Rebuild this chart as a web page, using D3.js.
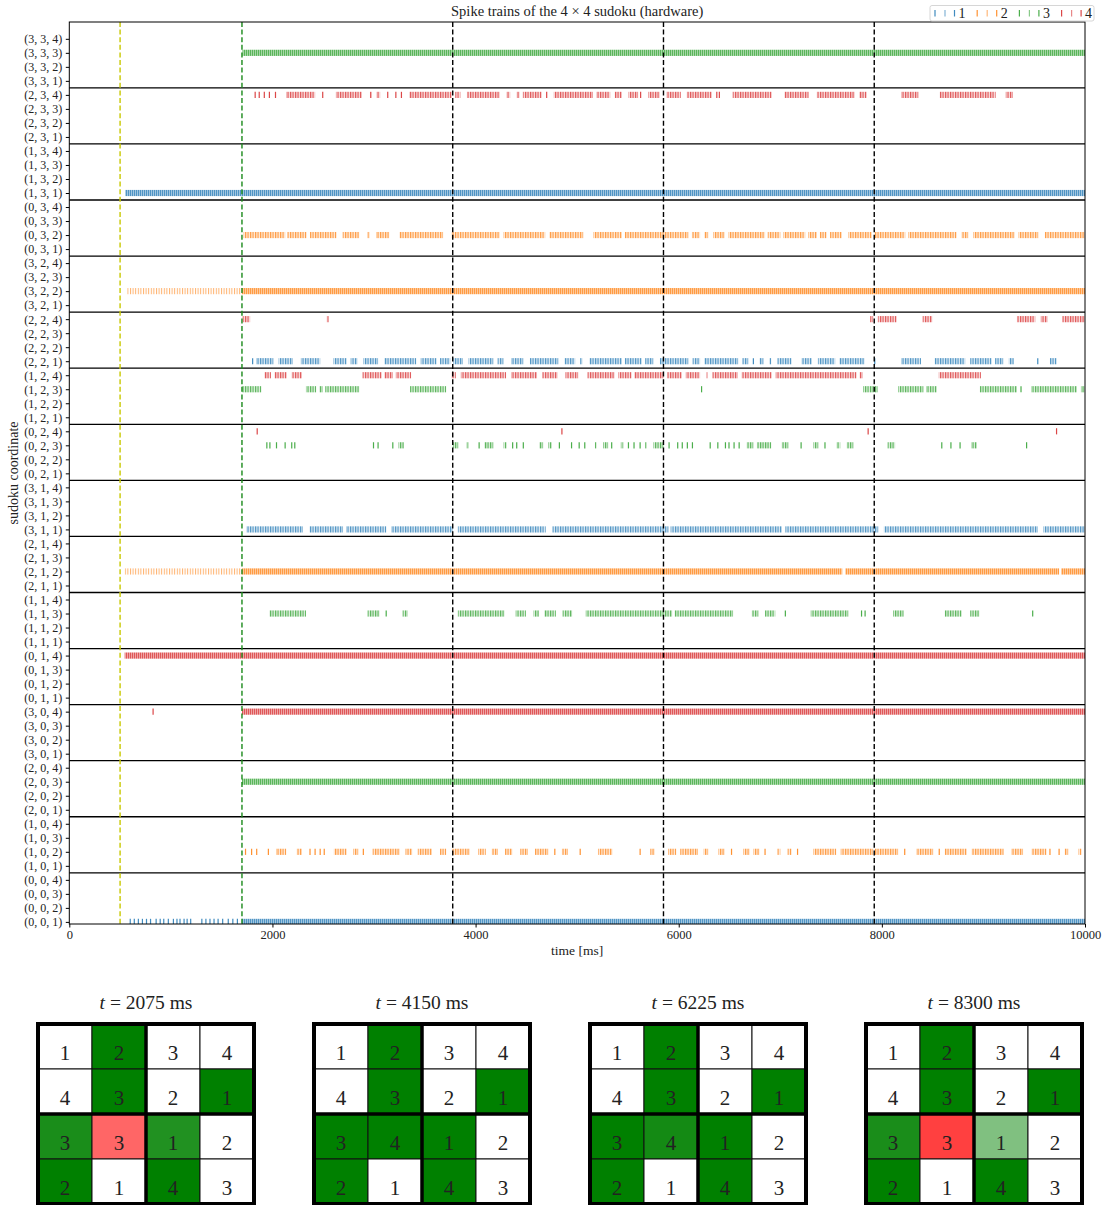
<!DOCTYPE html>
<html>
<head>
<meta charset="utf-8">
<script src="https://cdn.jsdelivr.net/npm/d3@7"></script>
<style>
body { margin: 0; background: #fff; }
svg text { font-family: "Liberation Serif", "DejaVu Serif", serif; fill: #222; }
</style>
</head>
<body>
<div id="chart"></div>
<script>
// ---- data -------------------------------------------------------------
// spike trains, [start, end] in ms (start == end: single spike),
// third value 1 = low-rate train, 2 = continuous train
const rowsIdx = [0, 1, 2, 3];
const colsIdx = [0, 1, 2, 3];
const digits = [1, 2, 3, 4];
const xTicks = [0, 2000, 4000, 6000, 8000, 10000];

const s_3_3_3 = [[1705, 10000, 2]];
const s_2_3_4 = [[1830,1830],[1870,1870],[1920,1920],[1970,1970],[2030,2030],[2135,2420],[2495,2495],[2625,2880],[2960,2980],[3025,3060],[3135,3135],[3215,3215],[3270,3270],[3345,3765],[3800,3850],[3915,4240],[4305,4340],[4405,4435],[4465,4650],[4700,4700],[4770,5155],[5190,5325],[5370,5440],[5505,5600],[5625,5625],[5700,5815],[5880,6020],[6080,6325],[6375,6375],[6400,6400],[6530,6915],[7040,7280],[7360,7735],[7775,7850],[8190,8360],[8570,9120],[9220,9290]];
const s_1_3_1 = [[550, 10000, 2]];
const s_0_3_2 = [[1715,2125],[2145,2335],[2370,2630],[2690,2855],[2935,2960],[3020,3150],[3250,3680],[3765,4240],[4275,4685],[4725,5060],[5160,5440],[5470,6095],[6130,6210],[6250,6290],[6340,6455],[6490,6850],[6875,7000],[7030,7245],[7275,7360],[7390,7455],[7490,7605],[7670,7900],[7930,8230],[8260,8735],[8785,8850],[8900,9310],[9345,9540],[9605,10000]];
const s_3_2_2 = [[570, 1700, 1], [1700, 10000, 2]];
const s_2_2_4 = [[1705,1780],[2535,2555],[7885,7915],[7960,8145],[8400,8495],[9330,9510],[9565,9630],[9775,10000]];
const s_2_2_1 = [[1805,1805],[1840,2010],[2060,2200],[2280,2470],[2600,2730],[2770,2835],[2895,3040],[3100,3415],[3460,3615],[3650,3750],[3780,3875],[3930,4175],[4215,4275],[4350,4470],[4535,4815],[4875,4980],[5030,5050],[5120,5440],[5470,5635],[5670,5750],[5815,6095],[6135,6210],[6250,6585],[6625,6685],[6735,6735],[6795,6835],[6890,6910],[6970,7110],[7210,7310],[7370,7540],[7580,7830],[7930,7930],[8190,8385],[8520,8820],[8870,9080],[9115,9195],[9250,9300],[9535,9535],[9655,9720]];
const s_1_2_4 = [[1920,1985],[2020,2140],[2190,2290],[2885,3075],[3100,3185],[3215,3365],[3765,3805],[3855,4300],[4350,4605],[4655,4805],[4885,5010],[5100,5370],[5405,5535],[5560,5850],[5885,6030],[6070,6210],[6270,6285],[6330,6580],[6620,6915],[6955,7750],[7780,7810],[8560,8975]];
const s_1_2_3 = [[1700,1890],[2330,2430],[2460,2495],[2520,2855],[3355,3710],[6225,6225],[7815,7960],[8160,8410],[8435,8540],[8965,9330],[9370,9370],[9470,9920],[9960,10000]];
const s_0_2_4 = [[1850,1850],[4850,4850],[7865,7865],[9720,9720]];
const s_0_2_3 = [[1945,1945],[1975,1975],[2040,2040],[2125,2125],[2190,2190],[2220,2220],[2995,2995],[3040,3040],[3185,3185],[3240,3295],[3775,3830],[3910,3930],[4035,4035],[4085,4175],[4275,4305],[4365,4365],[4405,4405],[4470,4470],[4625,4665],[4715,4750],[4825,4825],[4945,4945],[5020,5020],[5075,5075],[5175,5190],[5255,5305],[5340,5340],[5430,5455],[5505,5505],[5560,5560],[5620,5620],[5670,5685],[5750,5850],[5905,5905],[5990,5990],[6035,6035],[6085,6085],[6135,6135],[6310,6310],[6385,6385],[6460,6460],[6495,6495],[6545,6545],[6595,6595],[6670,6735],[6770,6910],[7015,7080],[7205,7205],[7325,7375],[7440,7440],[7555,7590],[7655,7720],[8055,8130],[8590,8590],[8680,8680],[8770,8770],[8880,8935],[9425,9425]];
const s_3_1_1 = [[1745,2300],[2365,2695],[2725,3120],[3170,3775],[3825,4690],[4755,5900],[5920,7015],[7050,7965],[8020,9535],[9590,10000]];
const s_2_1_2 = [[545,1700,1],[1700,7610,2],[7640,9745,2],[9765,10000,2]];
const s_1_1_3 = [[1970,2330],[2935,3055],[3120,3120],[3280,3330],[3825,4285],[4395,4495],[4570,4625],[4675,4790],[4855,4950],[5085,5935],[5960,6535],[6720,6785],[6850,6950],[7050,7050],[7300,7670],[7800,7800],[7835,7835],[8110,8215],[8620,8785],[8870,8960],[9485,9485]];
const s_0_1_4 = [[545, 10000, 2]];
const s_3_0_4 = [[825,825],[1700, 10000, 2]];
const s_2_0_3 = [[1700, 10000, 2]];
const s_1_0_2 = [[1735,1735],[1795,1795],[1845,1845],[1960,1960],[2035,2135],[2240,2290],[2370,2370],[2420,2420],[2470,2470],[2510,2510],[2605,2730],[2795,2845],[2895,2895],[2985,3255],[3310,3375],[3430,3570],[3650,3710],[3770,3945],[4025,4100],[4160,4220],[4290,4360],[4440,4515],[4585,4715],[4780,4780],[4850,4910],[5030,5030],[5205,5345],[5620,5620],[5720,5765],[5895,5975],[6015,6190],[6245,6290],[6390,6455],[6520,6520],[6635,6700],[6735,6795],[6850,6850],[6970,7000],[7070,7110],[7170,7170],[7325,7550],[7595,7915],[7930,8160],[8225,8225],[8340,8505],[8565,8565],[8620,8835],[8885,9200],[9275,9390],[9475,9620],[9655,9655],[9745,9745],[9800,9835],[9935,9965]];
const s_0_0_1 = [[600,600],[640,640],[680,680],[720,720],[760,760],[800,800],[855,855],[895,895],[930,930],[975,975],[1025,1025],[1060,1060],[1090,1090],[1130,1130],[1160,1160],[1195,1195],[1305,1305],[1345,1345],[1385,1385],[1425,1425],[1465,1465],[1510,1510],[1565,1565],[1610,1610],[1655,1655],[1700,10000,2]];

const trains = [
    { c: [3,3,3], s: s_3_3_3 }, { c: [2,3,4], s: s_2_3_4 }, { c: [1,3,1], s: s_1_3_1 },
    { c: [0,3,2], s: s_0_3_2 }, { c: [3,2,2], s: s_3_2_2 }, { c: [2,2,4], s: s_2_2_4 },
    { c: [2,2,1], s: s_2_2_1 }, { c: [1,2,4], s: s_1_2_4 }, { c: [1,2,3], s: s_1_2_3 },
    { c: [0,2,4], s: s_0_2_4 }, { c: [0,2,3], s: s_0_2_3 }, { c: [3,1,1], s: s_3_1_1 },
    { c: [2,1,2], s: s_2_1_2 }, { c: [1,1,3], s: s_1_1_3 }, { c: [0,1,4], s: s_0_1_4 },
    { c: [3,0,4], s: s_3_0_4 }, { c: [2,0,3], s: s_2_0_3 }, { c: [1,0,2], s: s_1_0_2 },
    { c: [0,0,1], s: s_0_0_1 }
];

// marker lines (ms)
const stimOnset = 500;
const netOnset = 1700;
const snapLines = [3775, 5850, 7925];

// sudoku snapshots
const snapTimes = [2075, 4150, 6225, 8300];
const snapDigits = [
    [[1,2,3,4],[4,3,2,1],[3,3,1,2],[2,1,4,3]],
    [[1,2,3,4],[4,3,2,1],[3,4,1,2],[2,1,4,3]],
    [[1,2,3,4],[4,3,2,1],[3,4,1,2],[2,1,4,3]],
    [[1,2,3,4],[4,3,2,1],[3,3,1,2],[2,1,4,3]]
];
// 0 = clue, >0 correct (share of time), <0 wrong
const snapConf = [
    [[0,1,0,0],[0,1,0,1],[0.9,-0.6,0.87,0],[1,0,1,0]],
    [[0,1,0,0],[0,1,0,1],[1,1,1,0],[1,0,1,0]],
    [[0,1,0,0],[0,1,0,1],[1,0.92,1,0],[1,0,1,0]],
    [[0,1,0,0],[0,1,0,1],[0.9,-0.75,0.5,0],[1,0,1,0]]
];

// ---- layout -----------------------------------------------------------
const W = 1105, H = 1205;
const colors = ["#1f77b4", "#ff7f0e", "#2ca02c", "#d62728"];

const svg = d3.select("#chart").append("svg")
    .attr("width", W)
    .attr("height", H);

const x = d3.scaleLinear().domain([0, 10000]).range([69.3, 1085]);
const y = d3.scaleLinear().domain([-0.15, 64.2]).range([924, 22]);

// coordinate labels, index = 16*b + 4*a + (k-1)
const labels = [];
colsIdx.forEach(b => rowsIdx.forEach(a => digits.forEach(k => labels.push("(" + a + ", " + b + ", " + k + ")"))));
const idx = c => 16 * c[1] + 4 * c[0] + (c[2] - 1);

const defs = svg.append("defs");
defs.append("clipPath").attr("id", "plotclip")
    .append("rect")
    .attr("x", x(0)).attr("y", y(64.2))
    .attr("width", x(10000) - x(0)).attr("height", y(-0.15) - y(64.2));

colors.forEach((col, i) => {
    // continuous train
    const pd = defs.append("pattern").attr("id", "dense" + i)
        .attr("patternUnits", "userSpaceOnUse").attr("width", 2).attr("height", 20);
    pd.append("rect").attr("width", 2).attr("height", 20).attr("fill", col).attr("opacity", 0.42);
    pd.append("rect").attr("width", 0.9).attr("height", 20).attr("fill", col).attr("opacity", 0.7);
    // low-rate train
    const pl = defs.append("pattern").attr("id", "light" + i)
        .attr("patternUnits", "userSpaceOnUse").attr("width", 2.6).attr("height", 20);
    pl.append("rect").attr("width", 1).attr("height", 20).attr("fill", col).attr("opacity", 0.6);
    // bursts
    const pb = defs.append("pattern").attr("id", "burst" + i)
        .attr("patternUnits", "userSpaceOnUse").attr("width", 2.5).attr("height", 20);
    pb.append("rect").attr("width", 2.5).attr("height", 20).attr("fill", col).attr("opacity", 0.15);
    pb.append("rect").attr("width", 1.2).attr("height", 20).attr("fill", col).attr("opacity", 0.75);
});

// ---- raster -------------------------------------------------------------
const plot = svg.append("g").attr("clip-path", "url(#plotclip)");

trains.forEach(tr => {
    const i = idx(tr.c);
    const ci = tr.c[2] - 1;
    const y0 = y(i + 0.22), y1 = y(i - 0.22);
    const g = plot.append("g");
    g.selectAll("rect")
        .data(tr.s.filter(d => d[1] - d[0] >= 15))
        .join("rect")
        .attr("x", d => x(d[0]))
        .attr("y", y0)
        .attr("width", d => x(d[1]) - x(d[0]))
        .attr("height", y1 - y0)
        .attr("fill", d => "url(#" + (d[2] === 2 ? "dense" : d[2] === 1 ? "light" : "burst") + ci + ")");
    g.selectAll("line")
        .data(tr.s.filter(d => d[1] - d[0] < 15))
        .join("line")
        .attr("x1", d => x(d[0])).attr("x2", d => x(d[0]))
        .attr("y1", y0).attr("y2", y1)
        .attr("stroke", colors[ci])
        .attr("stroke-width", 1.2)
        .attr("opacity", 0.85);
});

// group separators
svg.append("g").selectAll("line")
    .data(d3.range(1, 16))
    .join("line")
    .attr("x1", x(0)).attr("x2", x(10000))
    .attr("y1", d => y(4 * d - 0.5)).attr("y2", d => y(4 * d - 0.5))
    .attr("stroke", "#000").attr("stroke-width", 1.3);

// marker lines
const vl = [
    { t: stimOnset, c: "#c8c800" },
    { t: netOnset, c: "#1a8a1a" }
].concat(snapLines.map(t => ({ t: t, c: "#000" })));
svg.append("g").selectAll("line")
    .data(vl)
    .join("line")
    .attr("x1", d => x(d.t)).attr("x2", d => x(d.t))
    .attr("y1", y(64.2)).attr("y2", y(-0.15))
    .attr("stroke", d => d.c)
    .attr("stroke-width", 1.4)
    .attr("stroke-dasharray", "5,2.6");

// frame
svg.append("rect")
    .attr("x", x(0)).attr("y", y(64.2))
    .attr("width", x(10000) - x(0)).attr("height", y(-0.15) - y(64.2))
    .attr("fill", "none").attr("stroke", "#000").attr("stroke-width", 1);

// axes
const yAxis = svg.append("g")
    .attr("transform", "translate(" + x(0) + ",0)")
    .call(d3.axisLeft(y).tickValues(d3.range(64)).tickFormat(i => labels[i]).tickSize(3.5).tickSizeOuter(0));
yAxis.select(".domain").remove();
yAxis.selectAll("text").attr("font-size", 12).attr("font-family", "Liberation Serif").attr("fill", "#222").attr("dx", "-0.05em");

const xAxis = svg.append("g")
    .attr("transform", "translate(0," + y(-0.15) + ")")
    .call(d3.axisBottom(x).tickValues(xTicks).tickFormat(d3.format("d")).tickSize(3.5).tickSizeOuter(0));
xAxis.select(".domain").remove();
xAxis.selectAll("text").attr("font-size", 12.5).attr("font-family", "Liberation Serif").attr("fill", "#222");

svg.append("text")
    .attr("x", (x(0) + x(10000)) / 2).attr("y", 955)
    .attr("text-anchor", "middle").attr("font-size", 13.5)
    .text("time [ms]");

svg.append("text")
    .attr("transform", "translate(18," + (y(64.2) + y(-0.15)) / 2 + ") rotate(-90)")
    .attr("text-anchor", "middle").attr("font-size", 14)
    .text("sudoku coordinate");

svg.append("text")
    .attr("x", (x(0) + x(10000)) / 2).attr("y", 16)
    .attr("text-anchor", "middle").attr("font-size", 14.5)
    .text("Spike trains of the 4 \u00d7 4 sudoku (hardware)");

// legend
const leg = svg.append("g");
leg.append("rect")
    .attr("x", 930).attr("y", 5.5).attr("width", 164).attr("height", 15.5)
    .attr("rx", 2).attr("fill", "#fff").attr("fill-opacity", 0.8)
    .attr("stroke", "#ccc").attr("stroke-width", 0.8);
digits.forEach((k, i) => {
    const lx = 935 + i * 42.2;
    [0, 10, 19.5].forEach((dx, j) => {
        leg.append("line")
            .attr("x1", lx + dx).attr("x2", lx + dx)
            .attr("y1", 10).attr("y2", 16.5)
            .attr("stroke", colors[i]).attr("stroke-width", 1.2)
            .attr("opacity", j === 1 ? 0.55 : 0.85);
    });
    leg.append("text")
        .attr("x", lx + 23.5).attr("y", 18)
        .attr("font-size", 14)
        .text(k);
});

// ---- sudoku snapshots ---------------------------------------------------
const gridLeft = [38, 314, 590, 866];
const gridTop = 1024, gridW = 216, gridH = 180;
const green = d3.interpolateRgb("#ffffff", "#008000");
const red = d3.interpolateRgb("#ffffff", "#ff0000");
const cellFill = v => v === 0 ? "#ffffff" : v > 0 ? green(v) : red(-v);

snapTimes.forEach((t, s) => {
    const g = svg.append("g").attr("transform", "translate(" + gridLeft[s] + "," + gridTop + ")");
    const cx = d3.scaleBand().domain(colsIdx).range([0, gridW]);
    const cy = d3.scaleBand().domain(rowsIdx).range([0, gridH]);

    const title = g.append("text")
        .attr("x", gridW / 2).attr("y", -15)
        .attr("text-anchor", "middle").attr("font-size", 19.5);
    title.append("tspan").attr("font-style", "italic").text("t");
    title.append("tspan").text(" = " + t + " ms");

    const cells = [];
    rowsIdx.forEach(r => colsIdx.forEach(c => cells.push({ r: r, c: c, v: snapDigits[s][r][c], f: snapConf[s][r][c] })));

    g.selectAll("rect.cell")
        .data(cells)
        .join("rect")
        .attr("class", "cell")
        .attr("x", d => cx(d.c)).attr("y", d => cy(d.r))
        .attr("width", cx.bandwidth()).attr("height", cy.bandwidth())
        .attr("fill", d => cellFill(d.f))
        .attr("stroke", "#111").attr("stroke-width", 1);

    g.selectAll("text.num")
        .data(cells)
        .join("text")
        .attr("class", "num")
        .attr("x", d => cx(d.c) + cx.bandwidth() / 2)
        .attr("y", d => cy(d.r) + cy.bandwidth() * 0.8)
        .attr("text-anchor", "middle")
        .attr("font-size", 21)
        .attr("fill", "#2a2a2a")
        .text(d => d.v);

    g.append("line").attr("x1", gridW / 2).attr("x2", gridW / 2).attr("y1", 0).attr("y2", gridH)
        .attr("stroke", "#000").attr("stroke-width", 3.5);
    g.append("line").attr("x1", 0).attr("x2", gridW).attr("y1", gridH / 2).attr("y2", gridH / 2)
        .attr("stroke", "#000").attr("stroke-width", 3.5);
    g.append("rect").attr("width", gridW).attr("height", gridH)
        .attr("fill", "none").attr("stroke", "#000").attr("stroke-width", 4);
});
</script>
</body>
</html>
